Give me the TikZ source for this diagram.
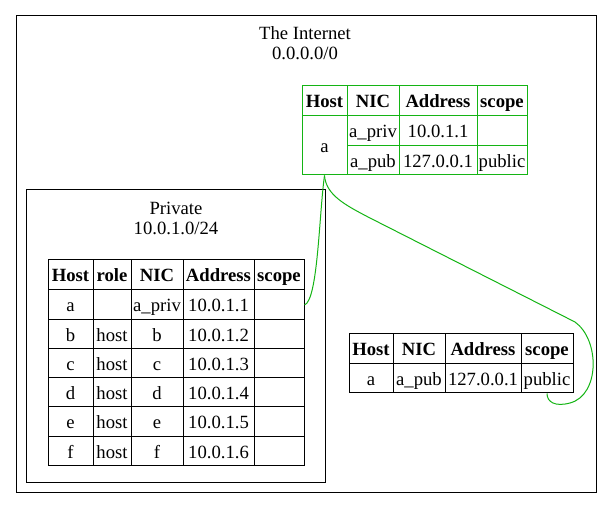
\documentclass[tikz,border=0pt]{standalone}
\usepackage{fontspec}
\setmainfont{Liberation Serif}
\usetikzlibrary{fit}
\definecolor{gline}{RGB}{20,180,20}
\newcommand\tcell[7][black]{%
  \path (#3,#4) coordinate (tmpA) (#5,#6) coordinate (tmpB);
  \node[cellst, draw=#1, fit=(tmpA)(tmpB), label={[txt]center:{#7}}] (#2) {};}
\begin{document}
\begin{tikzpicture}[x=0.75pt,y=-0.75pt,
  every node/.style={font=\fontsize{14}{16}\selectfont},
  txt/.style={inner sep=0pt, text height=13pt, text depth=3pt, font=\fontsize{14}{16}\selectfont},
  cellst/.style={inner sep=0pt, line width=0.75pt},
  frame/.style={draw, line width=0.75pt},
  link/.style={draw=gline, line width=0.75pt}]
\useasboundingbox (0,0) rectangle (611,509);
% outer cluster
\node[frame, fit={(16,16)(596,493)}, inner sep=0pt] (internet) {};
\node[txt] (t1) at (305,33) {The Internet};
\node[txt] (t2) at (305,53) {0.0.0.0/0};
% private cluster
\node[frame, fit={(26,190)(325,483)}, inner sep=0pt] (private) {};
\node[txt] (p1) at (176,208) {Private};
\node[txt] (p2) at (176,228) {10.0.1.0/24};
% green table
\tcell[gline]{gh1}{302}{86}{347}{116}{\textbf{Host}}
\tcell[gline]{gh2}{347}{86}{399}{116}{\textbf{NIC}}
\tcell[gline]{gh3}{399}{86}{477}{116}{\textbf{Address}}
\tcell[gline]{gh4}{477}{86}{527}{116}{\textbf{scope}}
\tcell[gline]{ga}{302}{116}{347}{175}{a}
\tcell[gline]{g12}{347}{116}{399}{146}{a\_priv}
\tcell[gline]{g13}{399}{116}{477}{146}{10.0.1.1}
\tcell[gline]{g14}{477}{116}{527}{146}{}
\tcell[gline]{g22}{347}{146}{399}{175}{a\_pub}
\tcell[gline]{g23}{399}{146}{477}{175}{127.0.0.1}
\tcell[gline]{g24}{477}{146}{527}{175}{public}
% private table
\tcell{ph1}{48}{260}{93}{290}{\textbf{Host}}
\tcell{ph2}{93}{260}{131}{290}{\textbf{role}}
\tcell{ph3}{131}{260}{183}{290}{\textbf{NIC}}
\tcell{ph4}{183}{260}{254}{290}{\textbf{Address}}
\tcell{ph5}{254}{260}{304}{290}{\textbf{scope}}
\tcell{pa1}{48}{290}{93}{320}{a}
\tcell{pa2}{93}{290}{131}{320}{}
\tcell{pa3}{131}{290}{183}{320}{a\_priv}
\tcell{pa4}{183}{290}{254}{320}{10.0.1.1}
\tcell{pas}{254}{290}{304}{320}{}
\tcell{pb1}{48}{320}{93}{349}{b}
\tcell{pb2}{93}{320}{131}{349}{host}
\tcell{pb3}{131}{320}{183}{349}{b}
\tcell{pb4}{183}{320}{254}{349}{10.0.1.2}
\tcell{pb5}{254}{320}{304}{349}{}
\tcell{pc1}{48}{349}{93}{378}{c}
\tcell{pc2}{93}{349}{131}{378}{host}
\tcell{pc3}{131}{349}{183}{378}{c}
\tcell{pc4}{183}{349}{254}{378}{10.0.1.3}
\tcell{pc5}{254}{349}{304}{378}{}
\tcell{pd1}{48}{378}{93}{407}{d}
\tcell{pd2}{93}{378}{131}{407}{host}
\tcell{pd3}{131}{378}{183}{407}{d}
\tcell{pd4}{183}{378}{254}{407}{10.0.1.4}
\tcell{pd5}{254}{378}{304}{407}{}
\tcell{pe1}{48}{407}{93}{437}{e}
\tcell{pe2}{93}{407}{131}{437}{host}
\tcell{pe3}{131}{407}{183}{437}{e}
\tcell{pe4}{183}{407}{254}{437}{10.0.1.5}
\tcell{pe5}{254}{407}{304}{437}{}
\tcell{pf1}{48}{437}{93}{466}{f}
\tcell{pf2}{93}{437}{131}{466}{host}
\tcell{pf3}{131}{437}{183}{466}{f}
\tcell{pf4}{183}{437}{254}{466}{10.0.1.6}
\tcell{pf5}{254}{437}{304}{466}{}
% public table
\tcell{uh1}{349}{334}{393}{364}{\textbf{Host}}
\tcell{uh2}{393}{334}{445}{364}{\textbf{NIC}}
\tcell{uh3}{445}{334}{521}{364}{\textbf{Address}}
\tcell{uh4}{521}{334}{573}{364}{\textbf{scope}}
\tcell{u1}{349}{364}{393}{393}{a}
\tcell{u2}{393}{364}{445}{393}{a\_pub}
\tcell{u3}{445}{364}{521}{393}{127.0.0.1}
\tcell{us}{521}{364}{573}{393}{public}
% connectors
\draw[link] (ga.south) .. controls (319,215) and (318,300) .. (pas.east);
\draw[link] (ga.south) .. controls (326,195) and (345,205) .. (370,218)
  -- (575,322) .. controls (600,340) and (600,395) .. (570,403)
  .. controls (555,407) and (547,402) .. (us.south);
\end{tikzpicture}
\end{document}
